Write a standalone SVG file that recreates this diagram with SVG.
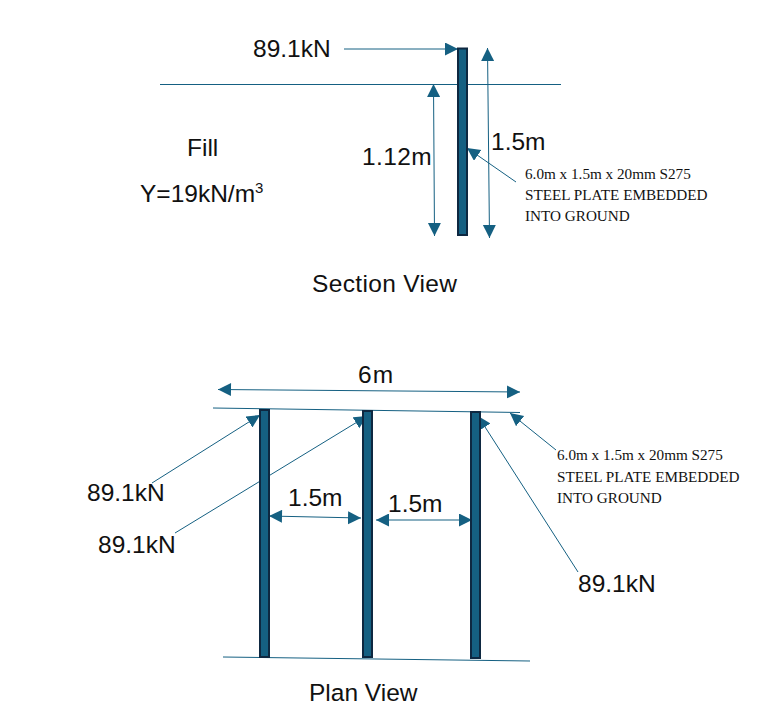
<svg xmlns="http://www.w3.org/2000/svg" width="776" height="711" viewBox="0 0 776 711">
<style>
.plate{fill:#156082;stroke:#0e2841;stroke-width:2}
.ln{fill:none;stroke:#156082;stroke-width:1}
.ar{marker-end:url(#a)}
.both{marker-start:url(#s);marker-end:url(#a)}
text{font-family:"Liberation Sans",Arial,sans-serif;font-size:24.5px;fill:#111}
.n{font-family:"Liberation Serif","Times New Roman",serif;font-size:15.2px}
</style>
<defs>
<marker id="a" markerUnits="userSpaceOnUse" markerWidth="14" markerHeight="14" refX="13" refY="6.5" orient="auto"><path d="M0 0L13 6.5L0 13Z" fill="#156082"/></marker>
<marker id="s" markerUnits="userSpaceOnUse" markerWidth="14" markerHeight="14" refX="0" refY="6.5" orient="auto"><path d="M13 0L0 6.5L13 13Z" fill="#156082"/></marker>
</defs>
<rect width="776" height="711" fill="#fff"/>
<g id="connectors">
<path class="ln" d="M160 84.5H561"/>
<path class="ln" d="M213 408L520 412.5"/>
<path class="ln" d="M223 657L530 661"/>
<path class="ln ar" d="M344 49L458 49"/>
<path class="ln both" d="M433.5 84L434.5 236"/>
<path class="ln both" d="M487.5 48L489.5 238"/>
<path class="ln ar" d="M516 182L467 148"/>
<path class="ln both" d="M218 389.5L520 392"/>
<path class="ln both" d="M269 516L361 518"/>
<path class="ln both" d="M376 520L472 520"/>
<path class="ln ar" d="M152 483L260 415"/>
<path class="ln ar" d="M175 533L367 416"/>
<path class="ln ar" d="M578 572L478 416"/>
<path class="ln ar" d="M556 450L510 413"/>
</g>
<g id="section-plate"><rect class="plate" x="458" y="48.5" width="9" height="186.5"/></g>
<g id="plan-plate-1"><rect class="plate" x="260" y="410" width="9" height="247"/></g>
<g id="plan-plate-2"><rect class="plate" x="363" y="411" width="9" height="246"/></g>
<g id="plan-plate-3"><rect class="plate" x="471" y="412" width="9" height="246"/></g>
<g id="labels">
<text x="253" y="57">89.1kN</text>
<text x="362" y="165" letter-spacing=".4">1.12m</text>
<text x="491" y="150">1.5m</text>
<text x="187" y="156">Fill</text>
<text x="140" y="202">Y=19kN/m<tspan font-size="15" dy="-9">3</tspan></text>
<text x="312" y="292" letter-spacing=".35">Section View</text>
<text class="n" x="525" y="179">6.0m x 1.5m x 20mm S275</text>
<text class="n" x="525" y="200">STEEL PLATE EMBEDDED</text>
<text class="n" x="525" y="221">INTO GROUND</text>
<text x="358" y="383" letter-spacing="1">6m</text>
<text x="288" y="506">1.5m</text>
<text x="388" y="512">1.5m</text>
<text x="87" y="501">89.1kN</text>
<text x="98" y="553">89.1kN</text>
<text x="578" y="592">89.1kN</text>
<text class="n" x="557" y="460">6.0m x 1.5m x 20mm S275</text>
<text class="n" x="557" y="482">STEEL PLATE EMBEDDED</text>
<text class="n" x="557" y="503">INTO GROUND</text>
<text x="309" y="701">Plan View</text>
</g>
</svg>
